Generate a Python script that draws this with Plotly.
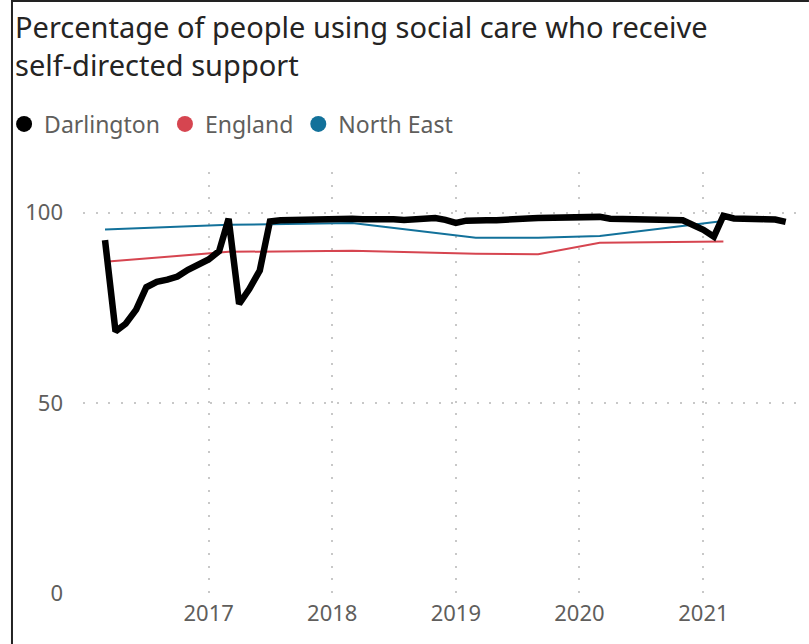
import plotly.graph_objects as go

# ---------------- data ----------------
darlington_dates = [
    "2016-03-01", "2016-04-01", "2016-05-01", "2016-06-01", "2016-07-01", "2016-08-01",
    "2016-09-01", "2016-10-01", "2016-11-01", "2016-12-01",
    "2017-01-01", "2017-02-01", "2017-03-01", "2017-04-01", "2017-05-01", "2017-06-01",
    "2017-07-01", "2017-08-01", "2017-09-01", "2017-10-01", "2017-11-01", "2017-12-01",
    "2018-01-01", "2018-02-01", "2018-03-01", "2018-04-01", "2018-05-01", "2018-06-01",
    "2018-07-01", "2018-08-01", "2018-09-01", "2018-10-01", "2018-11-01", "2018-12-01",
    "2019-01-01", "2019-02-01", "2019-03-01", "2019-04-01", "2019-05-01", "2019-06-01",
    "2019-07-01", "2019-08-01", "2019-09-01", "2019-10-01", "2019-11-01", "2019-12-01",
    "2020-01-01", "2020-02-01", "2020-03-01", "2020-04-01", "2020-05-01", "2020-06-01",
    "2020-07-01", "2020-08-01", "2020-09-01", "2020-10-01", "2020-11-01", "2020-12-01",
    "2021-01-01", "2021-02-01", "2021-03-01", "2021-04-01", "2021-05-01", "2021-06-01",
    "2021-07-01", "2021-08-01", "2021-09-01",
]
darlington_values = [
    92.8, 68.8, 70.8, 74.5, 80.4, 81.8, 82.4, 83.2, 85.0, 86.4,
    87.7, 89.9, 98.4, 76.0, 79.9, 84.8, 97.7, 98.0, 98.1, 98.2, 98.3, 98.4,
    98.4, 98.5, 98.4, 98.3, 98.4, 98.5, 98.3, 98.1, 98.2, 98.4, 98.6, 98.1,
    97.3, 97.9, 98.1, 98.0, 98.0, 98.3, 98.4, 98.5, 98.6, 98.7, 98.8, 98.9,
    98.9, 98.9, 98.9, 98.4, 98.4, 98.5, 98.5, 98.4, 98.2, 98.1, 98.0, 96.9,
    95.5, 93.7, 99.2, 98.5, 98.3, 98.1, 98.3, 98.2, 97.6,
]

comparator_dates = ["2016-03-01", "2017-03-01", "2018-03-01", "2019-03-01",
                    "2019-09-01", "2020-03-01", "2021-03-01"]
england_values = [87.1, 89.7, 90.0, 89.2, 89.1, 92.1, 92.4]
north_east_values = [95.6, 96.8, 97.3, 93.4, 93.4, 93.9, 97.8]

series_names = ["Darlington", "England", "North East"]
series_colors = ["#000000", "#D64550", "#12719A"]

y_tick_values = [0, 50, 100]
x_tick_values = ["2017-01-01", "2018-01-01", "2019-01-01", "2020-01-01", "2021-01-01"]
x_tick_labels = ["2017", "2018", "2019", "2020", "2021"]

title_text = "Percentage of people using social care who receive<br>self-directed support"

# ---------------- layout geometry ----------------
W, H = 809, 644
ML, MR, MT, MB = 73, 4, 172, 51
PW, PH = W - ML - MR, H - MT - MB

FONT = "Noto Sans, sans-serif"
GRID = "#C8C8C8"
LABEL = "#605E5C"

fig = go.Figure()

fig.add_trace(go.Scatter(x=comparator_dates, y=north_east_values, mode="lines",
                         line=dict(color=series_colors[2], width=2),
                         showlegend=False, name=series_names[2]))
fig.add_trace(go.Scatter(x=comparator_dates, y=england_values, mode="lines",
                         line=dict(color=series_colors[1], width=2),
                         showlegend=False, name=series_names[1]))
fig.add_trace(go.Scatter(x=darlington_dates, y=darlington_values, mode="lines",
                         line=dict(color=series_colors[0], width=6.5),
                         showlegend=False, name=series_names[0]))

for name, color in zip(series_names, series_colors):
    fig.add_trace(go.Scatter(x=[None], y=[None], mode="markers", name=name,
                             marker=dict(color=color, size=20, symbol="circle"),
                             showlegend=True))

def px_x(p):
    return (p - ML) / PW

def px_y(p):
    return (H - MB - p) / PH

fig.update_layout(
    width=W, height=H,
    margin=dict(l=ML, r=MR, t=MT, b=MB, pad=0),
    paper_bgcolor="white", plot_bgcolor="white",
    font=dict(family=FONT, color=LABEL),
    annotations=[dict(text=title_text, xref="paper", yref="paper",
                      x=px_x(2), y=px_y(5), xanchor="left", yanchor="top",
                      align="left", showarrow=False,
                      font=dict(family=FONT, size=29, color="#252423"))],
    legend=dict(orientation="h", x=px_x(-7), xanchor="left", y=px_y(124), yanchor="middle",
                font=dict(family=FONT, size=23, color=LABEL),
                itemsizing="trace", bgcolor="rgba(0,0,0,0)", tracegroupgap=0),
    xaxis=dict(type="date", range=["2015-12-27", "2021-10-28"],
               tickvals=x_tick_values, ticktext=x_tick_labels,
               showgrid=True, gridcolor=GRID, gridwidth=2, griddash="2px,10.7px",
               showline=False, zeroline=False, ticks="", ticklabelstandoff=5,
               tickfont=dict(family=FONT, size=22, color=LABEL)),
    yaxis=dict(range=[0, 110.7], tickvals=y_tick_values,
               showgrid=True, gridcolor=GRID, gridwidth=2, griddash="2px,10.7px",
               showline=False, zeroline=False, ticks="", ticklabelstandoff=19,
               tickfont=dict(family=FONT, size=22, color=LABEL)),
    shapes=[
        dict(type="line", xref="paper", yref="paper",
             x0=px_x(1), x1=px_x(1), y0=px_y(0), y1=px_y(H),
             line=dict(color="#222222", width=2)),
        dict(type="line", xref="paper", yref="paper",
             x0=px_x(0), x1=px_x(W), y0=px_y(1), y1=px_y(1),
             line=dict(color="#222222", width=2)),
    ],
)

fig.write_html("out.html")
